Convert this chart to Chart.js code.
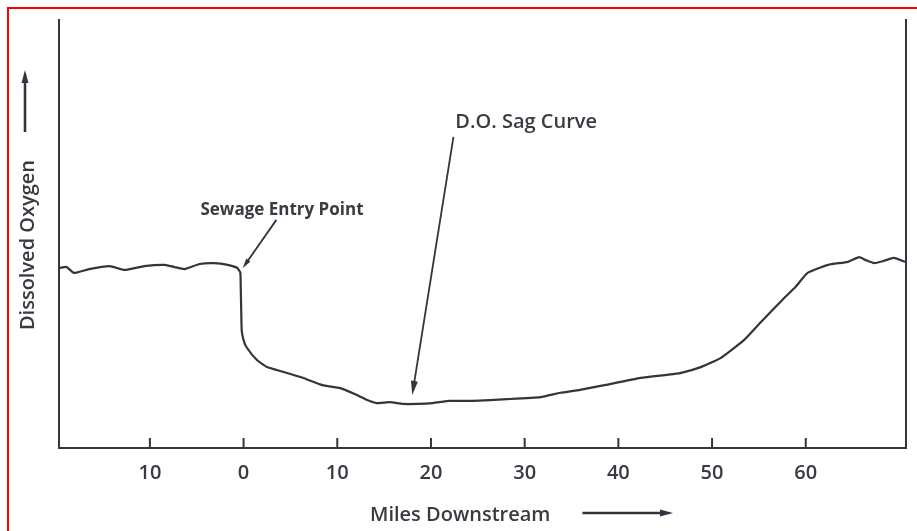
<!DOCTYPE html>
<html>
<head>
<meta charset="utf-8">
<script src="https://cdn.jsdelivr.net/npm/chart.js@4.4.1/dist/chart.umd.min.js"></script>
<style>
  body { margin: 0; background: #fff; }
  #wrap { position: relative; width: 917px; height: 531px; }
  #frame { position: absolute; left: 7px; top: 7px; width: 920px; height: 530px;
           border-left: 2px solid #f00; border-top: 2px solid #f00; pointer-events: none; }
</style>
</head>
<body>
<div id="wrap">
  <canvas id="sagChart"></canvas>
  <div id="frame"></div>
</div>
<script>
// miles from sewage entry (negative = upstream) and relative dissolved oxygen
const miles = [-19.6, -18.9, -18.1, -16.5, -14.3, -12.7, -10.6, -8.4, -7.4, -6.3, -4.7, -3.1, -1.7, -0.7,
  -0.35, -0.3, -0.25, -0.2, 0.0, 0.3, 1.4, 2.5, 4.2, 6.3, 8.4, 10.3, 12.1, 13.2, 14.2, 15.6, 17.0, 18.5,
  20.2, 22.0, 24.5, 28.1, 31.7, 33.8, 35.9, 38.1, 42.4, 45.2, 46.6, 48.8, 50.9, 53.4, 55.2, 57.5, 58.9,
  60.2, 62.4, 64.5, 65.7, 66.4, 67.3, 68.3, 69.4, 70.6]
const oxygen = [42.1, 42.3, 40.9, 41.8, 42.5, 41.6, 42.5, 42.8, 42.3, 41.8, 43.0, 43.2, 42.8, 42.1,
  41.0, 37.0, 32.0, 27.5, 25.2, 23.6, 20.6, 18.9, 17.8, 16.4, 14.7, 14.0, 12.4, 11.2, 10.5, 10.7, 10.3, 10.3,
  10.5, 11.0, 11.0, 11.4, 11.9, 12.9, 13.6, 14.5, 16.4, 17.1, 17.5, 18.9, 21.0, 25.2, 29.4, 34.6, 37.6,
  40.9, 42.8, 43.5, 44.6, 43.9, 43.2, 43.7, 44.4, 43.5]
const xTicks = [-10, 0, 10, 20, 30, 40, 50, 60]

const xTitle = 'Miles Downstream'
const yTitle = 'Dissolved Oxygen'
// annotations: label position and arrow ends in data units
const notes = [
  { text: 'Sewage Entry Point', at: [4.1, 55.6], from: [3.5, 53.3], to: [-0.1, 42.0], font: 'bold 17px "Open Sans"', head: 10, align: 'center' },
  { text: 'D.O. Sag Curve', at: [22.6, 76.2], from: [22.4, 72.7], to: [18.0, 12.4], font: '600 20px "Open Sans"', head: 14, align: 'left' }
]

const ink = '#34343f'
const textInk = '#3a3a42'

function arrow(ctx, x1, y1, x2, y2, head, w) {
  const a = Math.atan2(y2 - y1, x2 - x1)
  ctx.beginPath()
  ctx.moveTo(x1, y1)
  ctx.lineTo(x2 - Math.cos(a) * head * 0.6, y2 - Math.sin(a) * head * 0.6)
  ctx.stroke()
  ctx.beginPath()
  ctx.moveTo(x2, y2)
  ctx.lineTo(x2 - Math.cos(a) * head + Math.sin(a) * w, y2 - Math.sin(a) * head - Math.cos(a) * w)
  ctx.lineTo(x2 - Math.cos(a) * head - Math.sin(a) * w, y2 - Math.sin(a) * head + Math.cos(a) * w)
  ctx.closePath()
  ctx.fill()
}

const extras = {
  id: 'extras',
  afterDraw(chart) {
    const ctx = chart.ctx
    const x = chart.scales.x, y = chart.scales.y
    const area = chart.chartArea
    ctx.save()
    ctx.strokeStyle = ink
    ctx.fillStyle = ink
    ctx.lineWidth = 2
    // inward tick marks
    xTicks.forEach(v => {
      const px = x.getPixelForValue(v)
      ctx.beginPath()
      ctx.moveTo(px, area.bottom)
      ctx.lineTo(px, area.bottom - 10)
      ctx.stroke()
    })
    // annotations
    ctx.lineWidth = 1.8
    notes.forEach(n => {
      arrow(ctx, x.getPixelForValue(n.from[0]), y.getPixelForValue(n.from[1]),
        x.getPixelForValue(n.to[0]), y.getPixelForValue(n.to[1]), n.head, n.head * 0.25)
      ctx.font = n.font
      ctx.fillStyle = textInk
      ctx.textAlign = n.align
      ctx.textBaseline = 'middle'
      ctx.fillText(n.text, x.getPixelForValue(n.at[0]), y.getPixelForValue(n.at[1]))
      ctx.fillStyle = ink
    })
    // axis titles with arrows
    ctx.font = '600 20px "Open Sans"'
    ctx.fillStyle = textInk
    ctx.textAlign = 'left'
    ctx.textBaseline = 'middle'
    ctx.fillText(xTitle, 370, 515)
    const xw = ctx.measureText(xTitle).width
    ctx.fillStyle = ink
    ctx.lineWidth = 2.6
    arrow(ctx, 370 + xw + 32, 513, 673, 513, 13, 3.5)
    ctx.save()
    ctx.translate(28, 245)
    ctx.rotate(-Math.PI / 2)
    ctx.textAlign = 'center'
    ctx.fillStyle = textInk
    ctx.fillText(yTitle, 0, 0)
    ctx.restore()
    arrow(ctx, 25, 132, 25, 70, 13, 3.5)
    ctx.restore()
  }
}

new Chart(document.getElementById('sagChart'), {
  type: 'line',
  data: {
    datasets: [{
      data: miles.map((m, i) => ({ x: m, y: oxygen[i] })),
      borderColor: ink,
      borderWidth: 2.2,
      pointRadius: 0,
      tension: 0.15
    }]
  },
  options: {
    responsive: true,
    maintainAspectRatio: false,
    animation: false,
    layout: { padding: { left: 59, right: 11, top: 20, bottom: 33 } },
    plugins: { legend: { display: false }, tooltip: { enabled: false } },
    scales: {
      x: {
        type: 'linear',
        min: -19.7,
        max: 70.7,
        afterBuildTicks: axis => { axis.ticks = xTicks.map(v => ({ value: v })) },
        grid: { display: false, drawTicks: false },
        border: { color: ink, width: 2 },
        ticks: {
          padding: 13,
          color: textInk,
          font: { family: 'Open Sans', size: 20, weight: '600' },
          callback: v => Math.abs(v)
        }
      },
      y: {
        min: 0,
        max: 100,
        grid: { display: false, drawTicks: false },
        border: { color: ink, width: 2 },
        ticks: { display: false }
      },
      y2: {
        position: 'right',
        min: 0,
        max: 100,
        grid: { display: false, drawTicks: false },
        border: { color: ink, width: 2 },
        ticks: { display: false }
      }
    }
  },
  plugins: [extras]
})
</script>
</body>
</html>
